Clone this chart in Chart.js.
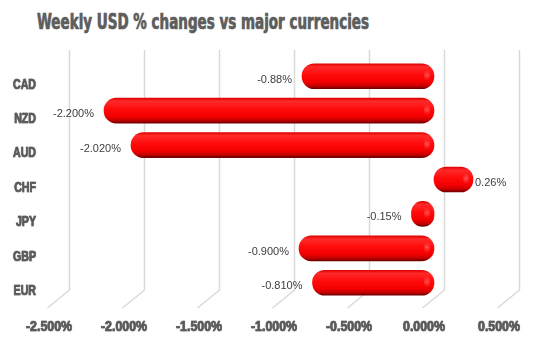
<!DOCTYPE html>
<html>
<head>
<meta charset="utf-8">
<script src="https://cdn.jsdelivr.net/npm/chart.js@4/dist/chart.umd.min.js"></script>
<style>
  html, body { margin: 0; padding: 0; background: #fff; }
  #wrap { position: relative; width: 559px; height: 342px; }
  #title {
    position: absolute; left: 37px; top: 10px;
    font: bold 21px "Liberation Sans Narrow", "DejaVu Sans Condensed", sans-serif;
    color: #5e5e5e; white-space: nowrap; transform-origin: 0 0;
    text-shadow: 0 0 1px rgba(90,90,90,0.7);
    -webkit-text-stroke: 0.4px #5e5e5e;
  }
  canvas { position: absolute; left: 0; top: 0; }
</style>
</head>
<body>
<div id="wrap">
  <div id="title">Weekly USD % changes vs major currencies</div>
  <canvas id="c" width="559" height="342"></canvas>
</div>
<script>
// Weekly USD moves against the majors (percent)
const currencies = ['CAD', 'NZD', 'AUD', 'CHF', 'JPY', 'GBP', 'EUR'];
const changes = [-0.88, -2.2, -2.02, 0.26, -0.15, -0.9, -0.81];
const labelDecimals = [2, 3, 3, 2, 2, 3, 3];
const xTicks = [-2.5, -2.0, -1.5, -1.0, -0.5, 0.0, 0.5];

// Stretch the heading to its intended width
const titleEl = document.getElementById('title');
const tw = titleEl.getBoundingClientRect().width;
titleEl.style.transform = 'scaleX(' + (332 / tw) + ')';

const axisFont = 'bold 14px "Liberation Sans", Arial, sans-serif';
const axisColor = '#5a5a5a';

// Back-wall gridlines with a slanted floor edge
const wallGrid = {
  id: 'wallGrid',
  beforeDatasetsDraw(chart) {
    const { ctx, chartArea, scales } = chart;
    ctx.save();
    ctx.strokeStyle = '#d9d9d9';
    ctx.lineWidth = 1.5;
    xTicks.forEach(v => {
      const px = scales.x.getPixelForValue(v);
      ctx.beginPath();
      ctx.moveTo(px + 10.5, chartArea.top - 9);
      ctx.lineTo(px + 10.5, chartArea.bottom - 10);
      ctx.lineTo(px - 11.5, chartArea.bottom + 8);
      ctx.stroke();
    });
    ctx.restore();
  }
};

// Condensed axis labels placed on the front edge of the floor
function condensedText(ctx, txt, x, y, sx, align) {
  const w = ctx.measureText(txt).width * sx;
  const left = align === 'right' ? x - w : align === 'center' ? x - w / 2 : x;
  ctx.save();
  ctx.translate(left, y);
  ctx.scale(sx, 1);
  ctx.textAlign = 'left';
  ctx.strokeText(txt, 0, 0);
  ctx.fillText(txt, 0, 0);
  ctx.restore();
}

const axisLabels = {
  id: 'axisLabels',
  afterDraw(chart) {
    const { ctx, chartArea, scales } = chart;
    ctx.save();
    ctx.font = axisFont;
    ctx.fillStyle = axisColor;
    ctx.strokeStyle = axisColor;
    ctx.lineWidth = 0.7;
    ctx.lineJoin = 'round';
    ctx.shadowColor = 'rgba(90,90,90,0.5)';
    ctx.shadowBlur = 1;
    ctx.textBaseline = 'middle';
    const sxX = 46 / ctx.measureText('-2.500%').width;
    xTicks.forEach(v => {
      const px = scales.x.getPixelForValue(v);
      condensedText(ctx, v.toFixed(3) + '%', px - 10, chartArea.bottom + 27.5, sxX, 'center');
    });
    const sxY = 23 / ctx.measureText('CAD').width;
    currencies.forEach((c, i) => {
      const py = scales.y.getPixelForValue(i);
      condensedText(ctx, c, 36, py + 8.5, sxY, 'right');
    });
    ctx.restore();
  }
};

// Value labels beside each bar, plus a soft sheen on each cylinder's end
const valueLabels = {
  id: 'valueLabels',
  afterDatasetsDraw(chart) {
    const { ctx, scales } = chart;
    const meta = chart.getDatasetMeta(0);
    const zeroPx = scales.x.getPixelForValue(0);
    ctx.save();
    meta.data.forEach((bar) => {
      const right = Math.max(bar.x, zeroPx);
      const hx = right - 7, hy = bar.y - 1;
      const g = ctx.createRadialGradient(hx, hy, 0, hx, hy, 6);
      g.addColorStop(0, 'rgba(255,150,150,0.55)');
      g.addColorStop(1, 'rgba(255,60,60,0)');
      ctx.fillStyle = g;
      ctx.beginPath();
      ctx.ellipse(hx, hy, 3, 8, 0, 0, Math.PI * 2);
      ctx.fill();
    });
    ctx.font = '11px "Liberation Sans", Arial, sans-serif';
    ctx.fillStyle = '#404040';
    ctx.textBaseline = 'middle';
    meta.data.forEach((bar, i) => {
      const v = changes[i];
      const txt = v.toFixed(labelDecimals[i]) + '%';
      if (v < 0) {
        ctx.textAlign = 'right';
        ctx.fillText(txt, bar.x - 10, bar.y + 3.5);
      } else {
        ctx.textAlign = 'left';
        ctx.fillText(txt, bar.x + 2, bar.y + 3.5);
      }
    });
    ctx.restore();
  }
};

function cylinderFill(context) {
  const chart = context.chart;
  const y = chart.scales && chart.scales.y;
  if (!chart.chartArea || !y) return '#ff0000';
  const cy = y.getPixelForValue(context.dataIndex);
  const g = chart.ctx.createLinearGradient(0, cy - 12.5, 0, cy + 12.5);
  g.addColorStop(0, '#e00000');
  g.addColorStop(0.12, '#ff2a2a');
  g.addColorStop(0.45, '#ff0a0a');
  g.addColorStop(0.72, '#f50000');
  g.addColorStop(0.88, '#c80000');
  g.addColorStop(1, '#700000');
  return g;
}

new Chart(document.getElementById('c'), {
  type: 'bar',
  data: {
    labels: currencies,
    datasets: [{
      data: changes,
      backgroundColor: cylinderFill,
      borderRadius: 13,
      borderSkipped: false,
      barThickness: 25
    }]
  },
  options: {
    indexAxis: 'y',
    responsive: false,
    animation: false,
    devicePixelRatio: 1,
    layout: { padding: { left: 0, right: 50, top: 59, bottom: 0 } },
    plugins: { legend: { display: false }, tooltip: { enabled: false }, title: { display: false } },
    scales: {
      x: {
        min: -2.5, max: 0.5,
        grid: { display: false, drawTicks: false },
        border: { display: false },
        afterBuildTicks(scale) { scale.ticks = xTicks.map(v => ({ value: v })); },
        afterFit(scale) { scale.height = 42; },
        ticks: { display: false }
      },
      y: {
        grid: { display: false, drawTicks: false },
        border: { display: false },
        afterFit(scale) { scale.width = 59; },
        ticks: { display: false }
      }
    }
  },
  plugins: [wallGrid, valueLabels, axisLabels]
});
</script>
</body>
</html>
